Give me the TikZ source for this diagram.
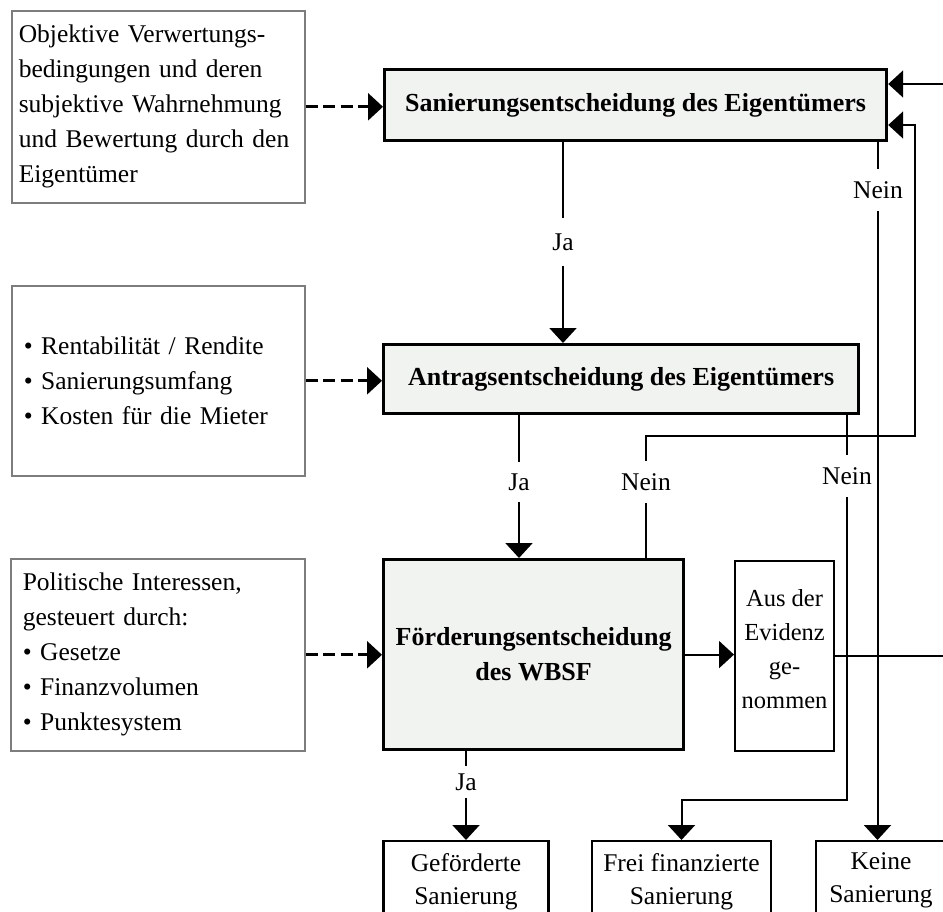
\documentclass[tikz,border=0pt]{standalone}
\usepackage{fontspec}
\setmainfont{Liberation Serif}
\usetikzlibrary{arrows.meta,calc}
\definecolor{boxfill}{RGB}{241,243,240}
\definecolor{thingray}{RGB}{125,125,125}
\begin{document}
\begin{tikzpicture}[x=1pt,y=-1pt,
  mainbox/.style={draw=black, line width=3.2pt, fill=boxfill, align=center, inner sep=0pt,
    anchor=north west, font=\fontsize{26}{35}\selectfont\bfseries},
  sidebox/.style={draw=thingray, line width=1.6pt, align=left, anchor=north west,
    font=\fontsize{25.5}{35}\selectfont},
  plainbox/.style={draw=black, line width=2.2pt, fill=white, align=center,
    font=\fontsize{25.5}{35}\selectfont},
  resbox/.style={plainbox, anchor=north, inner ysep=12pt, font=\fontsize{25.5}{33}\selectfont},
  conn/.style={line width=2pt},
  arr/.style={conn, -{Triangle[width=27pt,length=15pt]}},
  dsh/.style={line width=2.8pt, dash pattern=on 12pt off 5.5pt, -{Triangle[width=27pt,length=15pt]}},
  lab/.style={fill=white, inner xsep=2pt, inner ysep=12pt, font=\fontsize{25.5}{35}\selectfont}
]
\useasboundingbox (0,0) rectangle (943,912);
\clip (0,0) rectangle (943,912);

% left boxes
\node[sidebox, inner xsep=7pt, text width=279pt, minimum height=192pt] (lb1) at (11,10)
  {Objektive Verwertungs-\\bedingungen und deren\\subjektive Wahrnehmung\\und Bewertung durch den\\Eigentümer};
\node[sidebox, inner xsep=12pt, text width=269pt, minimum height=190pt] (lb2) at (11,285)
  {• Rentabilität / Rendite\\• Sanierungsumfang\\• Kosten für die Mieter};
\node[sidebox, inner xsep=12pt, text width=270pt, minimum height=192pt] (lb3) at (10,558)
  {Politische Interessen,\\gesteuert durch:\\• Gesetze\\• Finanzvolumen\\• Punktesystem};

% main decision boxes
\node[mainbox, minimum width=502pt, minimum height=71pt] (b1) at (383,68)
  {Sanierungsentscheidung des Eigentümers};
\node[mainbox, minimum width=475pt, minimum height=69pt] (b2) at (382,343)
  {Antragsentscheidung des Eigentümers};
\node[mainbox, minimum width=300pt, minimum height=190pt] (b3) at (382,558)
  {Förderungsentscheidung\\des WBSF};

% side / result boxes
\node[plainbox, anchor=north west, minimum width=99pt, minimum height=190pt, inner xsep=0pt,
  text depth=14pt, font=\fontsize{24.5}{34}\selectfont] (aus) at (734,560) {Aus der\\Evidenz\\ge-\\nommen};
\node[resbox, minimum width=165pt] (gef) at (466,840) {Geförderte\\Sanierung};
\node[resbox, minimum width=179pt] (frei) at (681.5,840) {Frei finanzierte\\Sanierung};
\node[resbox, minimum width=130pt] (keine) at (881,840) {Keine\\Sanierung};

% helper coordinates
\coordinate (colA) at (563,0);
\coordinate (colB) at (519,0);
\coordinate (colC) at (646,0);
\coordinate (colD) at (847,0);
\coordinate (colE) at (877.5,0);
\coordinate (r1) at (915,436);
\coordinate (r2) at (915,125);
\coordinate (f1) at (847,800);
\coordinate (o1) at (975,0);
\coordinate (topin) at (0,84);

% dashed influences
\draw[dsh] (lb1.east) -- (lb1.east -| b1.west);
\draw[dsh] (lb2.east) -- (lb2.east -| b2.west);
\draw[dsh] (lb3.east) -- (lb3.east -| b3.west);

% flow connectors
\draw[arr] (b1.south -| colA) -- (b2.north -| colA);
\draw[arr] (b2.south -| colB) -- (b3.north -| colB);
\draw[arr] (b3.south -| gef.north) -- (gef.north);
\draw[arr] (b3.east) -- (b3.east -| aus.west);
\draw[arr] (b3.north -| colC) -- (colC |- r1) -- (r1) -- (r2) -- (r2 -| b1.east);
\draw[arr] (b2.south -| colD) -- (f1) -- (f1 -| frei.north) -- (frei.north);
\draw[arr] (b1.south -| colE) -- (keine.north -| colE);
\draw[arr] (aus.east) -- (o1 |- aus.east) -- (o1 |- topin) -- (topin -| b1.east);

% labels
\node[lab, inner ysep=16pt] (ja1) at (563,242) {Ja};
\node[lab] (nein1) at (878,190) {Nein};
\node[lab] (ja2) at (519,482) {Ja};
\node[lab] (nein2) at (646,482) {Nein};
\node[lab] (nein3) at (847,476) {Nein};
\node[lab, inner ysep=8pt] (ja3) at (466,782) {Ja};
\end{tikzpicture}
\end{document}
